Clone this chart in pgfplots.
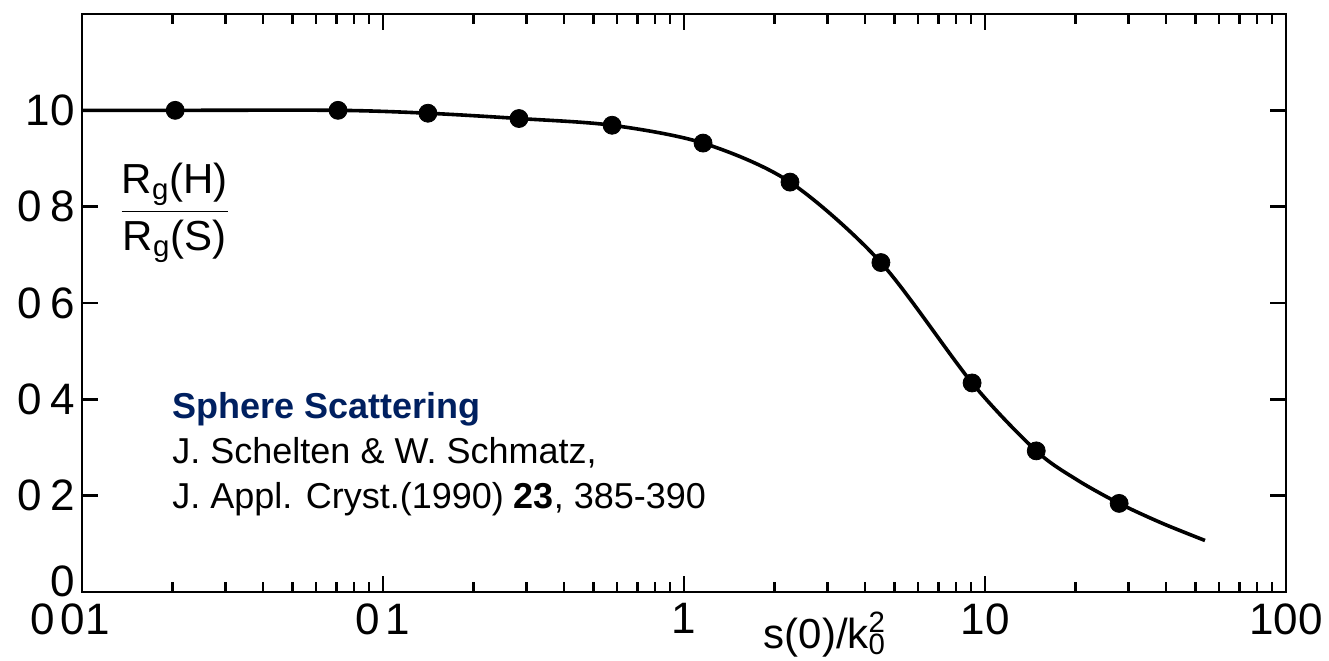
\documentclass[border=0pt]{standalone}
\usepackage{pgfplots}
\pgfplotsset{compat=1.18}
\usepackage{fontspec}
\setmainfont{Liberation Sans}
\definecolor{navy}{RGB}{0,32,96}

% measured ratio R_g(H)/R_g(S) versus s(0)/k_0^2
\pgfplotstableread{
x y
0.0204 1.000
0.0709 1.000
0.141 0.994
0.283 0.983
0.577 0.969
1.157 0.932
2.25 0.851
4.51 0.684
9.06 0.434
14.8 0.293
27.9 0.184
}\points

% drawn curve through the points
\pgfplotstableread{
x y
0.01 1.000
0.0204 1.000
0.0709 1.000
0.141 0.994
0.283 0.983
0.577 0.969
1.157 0.932
2.25 0.851
4.51 0.684
9.06 0.434
14.8 0.293
20.2 0.233
27.9 0.184
38.7 0.143
53.8 0.107
}\curve

\begin{document}
\begin{tikzpicture}
\begin{axis}[
  xmode=log,
  scale only axis,
  width=602pt, height=289pt,
  xmin=0.01, xmax=100,
  ymin=0, ymax=1.2,
  clip=false,
  axis line style={line width=1.4pt},
  every tick/.style={black, line width=1.2pt},
  major tick length=8pt,
  minor tick length=5pt,
  xtick={0.01,0.1,1,10,100},
  xticklabels={\kern-12pt 0\kern3pt 01, 0\kern3pt 1, 1, 10, 100},
  ytick={0,0.2,0.4,0.6,0.8,1.0},
  yticklabels={\raisebox{0pt}[4.8pt][0pt]{0}, 0\kern4pt 2, 0\kern4pt 4, 0\kern4pt 6, 0\kern4pt 8, 10},
  tick label style={font=\fontsize{22}{26}\selectfont},
  xticklabel style={inner sep=0pt, yshift=-5.5pt},
  yticklabel style={inner sep=0pt, xshift=-3.5pt},
  xlabel={s(0)/k\textsubscript{0}\llap{\textsuperscript{2}}},
  xlabel style={at={(rel axis cs:0.617,0)}, anchor=base, yshift=-28pt,
    inner sep=0pt, font=\fontsize{21}{25}\selectfont},
]
\addplot[black, line width=1.8pt, smooth, tension=0.5, no markers] table {\curve};
\addplot[only marks, mark=*, mark size=4.5pt, black] table {\points};

\node[anchor=center, font=\fontsize{21}{24}\selectfont]
  at (rel axis cs:0.077,0.656)
  {$\displaystyle\frac{\hbox{R\textsubscript{g}(H)}}{\hbox{R\textsubscript{g}(S)}}$};

\node[anchor=base west, inner sep=0pt, font=\fontsize{18}{22}\selectfont\bfseries, text=navy]
  at (rel axis cs:0.0748,0.301) {Sphere Scattering};
\node[anchor=base west, inner sep=0pt, font=\fontsize{18}{22}\selectfont]
  at (rel axis cs:0.0748,0.223) {J. Schelten \& W. Schmatz,};
\node[anchor=base west, inner sep=0pt, font=\fontsize{18}{22}\selectfont]
  at (rel axis cs:0.0748,0.145) {J. Appl. Cryst.(1990) \textbf{23}, 385-390};
\end{axis}
\path ([xshift=-41pt,yshift=-34pt]current axis.south west)
  rectangle ([xshift=21.5pt,yshift=7pt]current axis.north east);
\end{tikzpicture}
\end{document}
